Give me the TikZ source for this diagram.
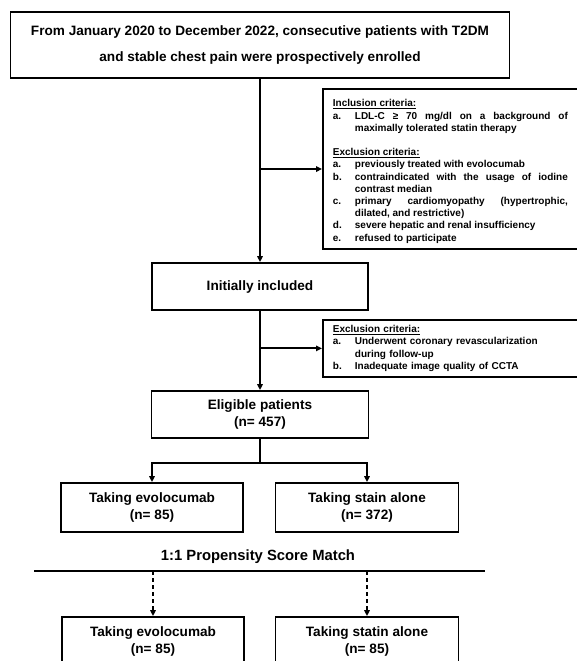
\documentclass[tikz,border=0pt]{standalone}
\usepackage{fontspec}
\setmainfont{Liberation Sans}
\usepackage{tikz}
\usetikzlibrary{arrows.meta,calc,positioning}
\newcommand{\critem}[2]{\par\hangindent=22pt\hangafter=1\noindent\makebox[22pt][l]{#1}#2}
\newcommand{\critfont}{\bfseries\fontsize{10}{12.2}\selectfont\hyphenpenalty=10000\relax\exhyphenpenalty=10000\relax}
\tikzset{stage/.style={draw,line width=1.8pt,align=center,inner sep=0pt,font=\bfseries\fontsize{13.6}{16.5}\selectfont},crit/.style={draw,line width=1.8pt,anchor=north west,text width=235pt,inner xsep=10pt,inner ysep=6pt,font=\critfont},flow/.style={-{Triangle[length=6pt,width=5.5pt]},line width=1.8pt},dashflow/.style={flow,dash pattern=on 4pt off 3pt},divider/.style={line width=1.8pt}}
\begin{document}
\begin{tikzpicture}[x=1pt,y=-1pt]
\useasboundingbox (0,0) rectangle (577,661);
\clip (0,0) rectangle (577,661);
\node[stage,minimum width=499pt,minimum height=66pt,font=\bfseries\fontsize{13.6}{26}\selectfont] (enrol) at (260,45) {From January 2020 to December 2022, consecutive patients with T2DM\\and stable chest pain were prospectively enrolled};
\node[crit,align=justify] (incl) at (322,88) {\noindent\rule{0pt}{12pt}\underline{Inclusion criteria:}\critem{a.}{LDL-C ≥ 70 mg/dl on a background of\linebreak maximally tolerated statin therapy}\par\vspace{12.2pt}\noindent\underline{Exclusion criteria:}\critem{a.}{previously treated with evolocumab}\critem{b.}{contraindicated with the usage of iodine\linebreak contrast median}\critem{c.}{primary cardiomyopathy (hypertrophic,\linebreak dilated, and restrictive)}\critem{d.}{severe hepatic and renal insufficiency}\critem{e.}{refused to participate}\par};
\node[stage,minimum width=216pt,minimum height=47pt] (init) at (260,286.5) {Initially included};
\node[crit,align=left,inner ysep=5.5pt] (excl) at (322,319) {\noindent\underline{Exclusion criteria:}\critem{a.}{Underwent coronary revascularization during follow-up}\critem{b.}{Inadequate image quality of CCTA}\par};
\node[stage,minimum width=217pt,minimum height=47pt] (elig) at (260,414.5) {Eligible patients\\(n= 457)};
\node[stage,minimum width=182pt,minimum height=49pt] (ta) at (152,507.5) {Taking evolocumab\\(n= 85)};
\node[stage,minimum width=183pt,minimum height=49pt] (tb) at (367,507.5) {Taking stain alone\\(n= 372)};
\node[font=\bfseries\fontsize{14.8}{17}\selectfont,inner sep=0pt] (psm) at (258,557) {1:1 Propensity Score Match};
\coordinate (psl) at (34,571);
\coordinate (psr) at (485,571);
\node[stage,minimum width=182pt,minimum height=49pt] (ma) at (153,641.5) {Taking evolocumab\\(n= 85)};
\node[stage,minimum width=183pt,minimum height=49pt] (mb) at (367,641.5) {Taking statin alone\\(n= 85)};
% connectors
\draw[flow] (enrol.south) -- (init.north);
\draw[flow] (enrol.south |- incl.west) -- (incl.west);
\draw[flow] (init.south) -- (elig.north);
\draw[flow] (init.south |- excl.west) -- (excl.west);
\draw[line width=1.8pt] (elig.south) -- ++(0,24) coordinate (br);
\draw[flow] (br) -| (ta.north);
\draw[flow] (br) -| (tb.north);
\draw[divider] (psl) -- (psr);
\draw[dashflow] (ma.north |- psl) -- (ma.north);
\draw[dashflow] (mb.north |- psl) -- (mb.north);
\end{tikzpicture}
\end{document}
